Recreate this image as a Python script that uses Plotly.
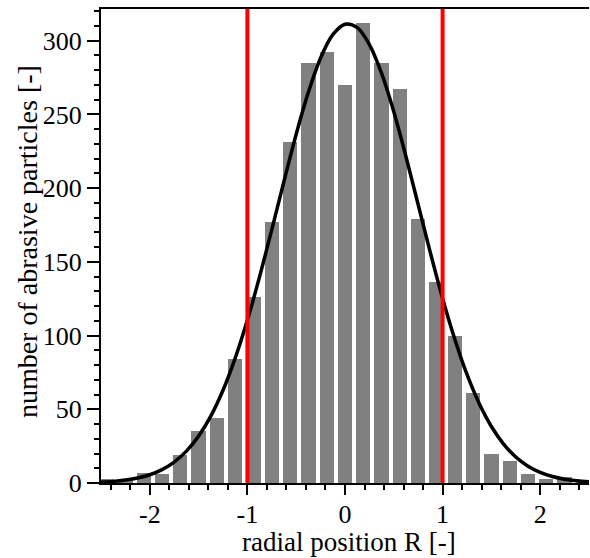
import plotly.graph_objects as go

# Histogram data (bin centres and counts)
bin_width = 0.1875
bin_centers = [-2.4375, -2.25, -2.0625, -1.875, -1.6875, -1.5, -1.3125, -1.125, -0.9375,
               -0.75, -0.5625, -0.375, -0.1875, 0.0, 0.1875, 0.375, 0.5625, 0.75, 0.9375,
               1.125, 1.3125, 1.5, 1.6875, 1.875, 2.0625, 2.25, 2.4375]
counts = [3, 3, 7, 6, 19, 35, 44, 84, 126, 177, 231, 285, 292, 270, 312, 285, 267,
          179, 136, 100, 61, 20, 15, 6, 3, 4, 2]

# Fitted curve points
curve_x = [-2.5, -2.375, -2.25, -2.125, -2.0, -1.875, -1.75, -1.625, -1.5, -1.375, -1.25,
           -1.125, -1.0, -0.875, -0.75, -0.625, -0.5, -0.375, -0.25, -0.125, 0.0, 0.125,
           0.25, 0.375, 0.5, 0.625, 0.75, 0.875, 1.0, 1.125, 1.25, 1.375, 1.5, 1.625, 1.75,
           1.875, 2.0, 2.125, 2.25, 2.375, 2.5]
curve_y = [0.6, 1.1, 2.0, 3.4, 5.6, 9.1, 14.2, 21.6, 31.8, 45.4, 62.9, 84.7, 110.5, 140.0,
           171.9, 204.7, 236.6, 265.1, 288.3, 304.1, 311.2, 308.9, 297.4, 277.8, 251.8,
           221.3, 188.7, 156.1, 125.2, 97.5, 73.6, 53.9, 38.3, 26.4, 17.6, 11.4, 7.2, 4.4,
           2.6, 1.5, 0.8]

# Vertical marker positions
marker_positions = [-1, 1]

x_tickvals = [-2, -1, 0, 1, 2]
x_ticktext = ["-2", "-1", "0", "1", "2"]
y_tickvals = [0, 50, 100, 150, 200, 250, 300]

x_title = "radial position R [-]"
y_title = "number of abrasive particles [-]"

FONT = "Liberation Serif"

fig = go.Figure()
fig.add_trace(go.Bar(x=bin_centers, y=counts, width=bin_width * 0.78,
                     marker=dict(color="#808080", line=dict(width=0)),
                     showlegend=False))
fig.add_trace(go.Scatter(x=curve_x, y=curve_y, mode="lines",
                         line=dict(color="black", width=3.5, shape="spline", smoothing=1.0),
                         showlegend=False))
for xv in marker_positions:
    fig.add_vline(x=xv, line=dict(color="#ff0000", width=4), layer="above")

fig.update_layout(
    width=590, height=558,
    margin=dict(l=101, r=1, t=9, b=75),
    plot_bgcolor="white", paper_bgcolor="white",
    font=dict(family=FONT, size=26, color="black"),
    bargap=0,
)
fig.update_xaxes(
    range=[-2.5, 2.5], showgrid=False, zeroline=False,
    showline=True, linecolor="black", linewidth=2, mirror=True,
    ticks="outside", ticklen=10, tickwidth=2, tickcolor="black",
    tickvals=x_tickvals, ticktext=x_ticktext, ticklabelstandoff=-3,
    minor=dict(dtick=0.2, tick0=0, ticks="outside", ticklen=5, tickwidth=2, tickcolor="black"),
    tickfont=dict(family=FONT, size=26),
)
fig.update_yaxes(
    range=[0, 321.5], showgrid=False, zeroline=False,
    showline=True, linecolor="black", linewidth=2,
    ticks="outside", ticklen=12, tickwidth=2, tickcolor="black",
    tickvals=y_tickvals,
    minor=dict(dtick=10, tick0=0, ticks="outside", ticklen=5, tickwidth=2, tickcolor="black"),
    tickfont=dict(family=FONT, size=26),
)

# Axis titles placed as annotations
fig.add_annotation(text=x_title, xref="paper", yref="paper", x=0.508, y=-0.124,
                   xanchor="center", yanchor="middle", showarrow=False,
                   font=dict(family=FONT, size=27, color="black"))
fig.add_annotation(text=y_title, xref="paper", yref="paper", x=-0.152, y=0.51,
                   xanchor="center", yanchor="middle", textangle=-90, showarrow=False,
                   font=dict(family=FONT, size=28, color="black"))

fig.write_html("out.html")
